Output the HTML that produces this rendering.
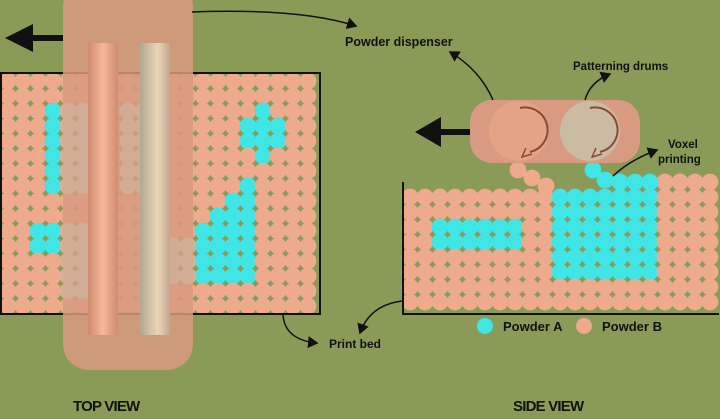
<!DOCTYPE html>
<html><head><meta charset="utf-8"><style>
html,body{margin:0;padding:0;background:#8a9b58;}
svg{display:block}
text{font-family:"Liberation Sans",sans-serif;fill:#111;}
</style></head><body>
<svg id="s" width="720" height="419" viewBox="0 0 720 419" xmlns="http://www.w3.org/2000/svg">
<defs>
<linearGradient id="g1" x1="0" x2="1"><stop offset="0" stop-color="#d08c70"/><stop offset="0.5" stop-color="#f4b898"/><stop offset="1" stop-color="#d08c70"/></linearGradient>
<linearGradient id="g2" x1="0" x2="1"><stop offset="0" stop-color="#b0a890"/><stop offset="0.6" stop-color="#ecd4b8"/><stop offset="1" stop-color="#c0a890"/></linearGradient>
<marker id="ah" markerWidth="8" markerHeight="8" refX="6" refY="4" orient="auto"><path d="M0,0 L7,4 L0,8 z" fill="#111"/></marker>
</defs>
<rect width="720" height="419" fill="#8a9b58"/>
<g id="top"></g>
<rect x="1" y="73" width="319" height="241" fill="none" stroke="#111" stroke-width="2"/>
<g id="side"></g>
<path d="M403,182 V314 H719" fill="none" stroke="#111" stroke-width="2"/>
<!-- top dispenser -->
<rect x="63" y="-20" width="130" height="390" rx="26" fill="#d89a80" fill-opacity="0.85"/>
<g id="beige" opacity="0.6"></g>
<rect x="88" y="43" width="30" height="292" fill="url(#g1)"/>
<rect x="140" y="43" width="30" height="292" fill="url(#g2)"/>
<path d="M63,38 H33" stroke="#111" stroke-width="6"/>
<path d="M5,38 L33,24 L33,52 z" fill="#111"/>
<!-- side dispenser -->
<rect x="470" y="100" width="170" height="63" rx="22" fill="#d89a80"/>
<circle cx="519" cy="131" r="30" fill="#e3a486"/>
<circle cx="590" cy="131" r="30" fill="#c9bca2"/>
<path d="M520,108 A22,22 0 0 1 530,152" fill="none" stroke="#8a4a3a" stroke-width="2"/>
<path d="M526,148 L522,157 L532,154" fill="none" stroke="#8a4a3a" stroke-width="1.5"/>
<path d="M590,108 A22,22 0 0 1 600,152" fill="none" stroke="#8a4a3a" stroke-width="2"/>
<path d="M596,148 L592,157 L602,154" fill="none" stroke="#8a4a3a" stroke-width="1.5"/>
<path d="M470,132 H440" stroke="#111" stroke-width="6"/>
<path d="M415,132 L441,117 L441,147 z" fill="#111"/>
<!-- connectors -->
<g fill="none" stroke="#111" stroke-width="1.5" marker-end="url(#ah)">
<path d="M192,12 Q300,8 356,26"/>
<path d="M493,100 Q480,70 450,52"/>
<path d="M585,100 Q590,82 610,74"/>
<path d="M613,176 Q630,160 657,150"/>
<path d="M283,315 Q285,340 317,343"/>
<path d="M402,301 Q370,305 360,333"/>
</g>
<g font-weight="bold">
<text x="345" y="46" font-size="12.5">Powder dispenser</text>
<text x="573" y="70" font-size="11.5">Patterning drums</text>
<text x="668" y="148" font-size="11.5">Voxel</text>
<text x="658" y="163" font-size="11.5">printing</text>
<text x="329" y="348" font-size="12">Print bed</text>
<text x="503" y="331" font-size="13">Powder A</text>
<text x="602" y="331" font-size="13">Powder B</text>
<text x="73" y="411" font-size="15" letter-spacing="-0.8">TOP VIEW</text>
<text x="513" y="411" font-size="15" letter-spacing="-0.8">SIDE VIEW</text>
</g>
<circle cx="485" cy="326" r="8" fill="#40e6e6"/>
<circle cx="584" cy="326" r="8" fill="#eeaa8c"/>
</svg>
<script>
var NS="http://www.w3.org/2000/svg";
function c(g,x,y,f,r){var e=document.createElementNS(NS,"circle");e.setAttribute("cx",x);e.setAttribute("cy",y);e.setAttribute("r",r||8.4);e.setAttribute("fill",f);document.getElementById(g).appendChild(e);}
var B="#eeaa8c",A="#40e6e6",Z="#cdb7a0";
var cy={};
function add(set,c0,c1,r0,r1){for(var i=c0;i<=c1;i++)for(var j=r0;j<=r1;j++)set[i+","+j]=1;}
add(cy,3,3,2,7);add(cy,2,3,10,11);
cy["17,2"]=1;add(cy,16,18,3,4);cy["17,5"]=1;
cy["16,7"]=1;add(cy,15,16,8,8);add(cy,14,16,9,9);add(cy,13,16,10,13);
var bz={};add(bz,4,5,2,7);add(bz,8,9,2,7);add(bz,4,5,10,14);add(bz,11,12,11,13);
for(var i=0;i<21;i++)for(var j=0;j<16;j++){var k=i+","+j;c("top",8+15*i,81+15*j,cy[k]?A:B);if(bz[k])c("beige",8+15*i,81+15*j,Z);}
var sc={};add(sc,2,7,2,3);add(sc,10,16,0,5);
for(var i=0;i<21;i++)for(var j=0;j<8;j++){c("side",410+15*i,197+15*j,sc[i+","+j]?A:B);}
for(var i=17;i<21;i++)c("side",410+15*i,182,B);
[620,635,650].forEach(function(x){c("side",x,182,A);});
c("side",593,170,A);c("side",605,180,A);
c("side",518,170,B);c("side",532,178,B);c("side",546,186,B);
</script>
</body></html>
